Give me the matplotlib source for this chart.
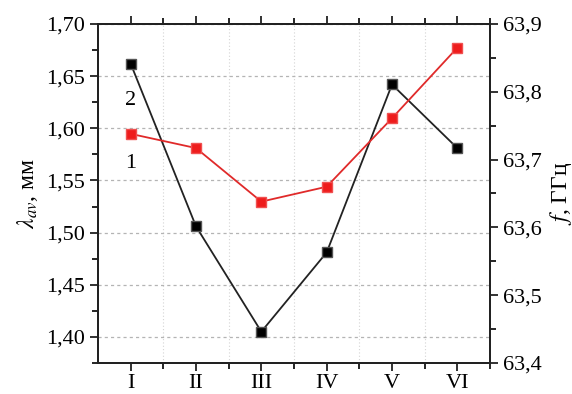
import numpy as np
import matplotlib
matplotlib.use('Agg')
import matplotlib.pyplot as plt
from matplotlib.ticker import FuncFormatter, MultipleLocator

plt.rcParams['font.family'] = ['Liberation Serif', 'DejaVu Serif']
plt.rcParams['mathtext.fontset'] = 'stix'

cats = ['I', 'II', 'III', 'IV', 'V', 'VI']
lam = [1.662, 1.506, 1.405, 1.481, 1.642, 1.581]      # curve 2, left axis
freq = [63.738, 63.717, 63.638, 63.660, 63.761, 63.865]  # curve 1, right axis

x = np.arange(1, len(cats) + 1)

fig = plt.figure(figsize=(5.72, 3.94), dpi=100)
ax = fig.add_axes([98/572, 31/394, 392/572, 339/394])
ax2 = ax.twinx()

ax.plot(x, lam, color='#222222', lw=1.3, marker='s', ms=6.5,
        markerfacecolor='black', markeredgecolor='#555555', zorder=3)
ax2.plot(x, freq, color='#e02a2a', lw=1.3, marker='s', ms=6.5,
         markerfacecolor='#ee1c1c', markeredgecolor='#f05050', zorder=3)

ax.set_xlim(0.5, 6.5)
ax.set_ylim(1.375, 1.70)
ax2.set_ylim(63.4, 63.9)

ax.set_xticks(x)
ax.set_xticklabels(cats)
ax.set_xticks(np.arange(1.5, 7, 1.0), minor=True)
ax.yaxis.set_major_locator(MultipleLocator(0.05))
ax.yaxis.set_minor_locator(MultipleLocator(0.025))
ax2.yaxis.set_major_locator(MultipleLocator(0.1))
ax2.yaxis.set_minor_locator(MultipleLocator(0.05))

comma2 = FuncFormatter(lambda v, p: ('%.2f' % v).replace('.', ','))
comma1 = FuncFormatter(lambda v, p: ('%.1f' % v).replace('.', ','))
ax.yaxis.set_major_formatter(comma2)
ax2.yaxis.set_major_formatter(comma1)

ax.grid(True, axis='y', which='major', color='#b4b4b4', ls=(0, (2.5, 2.5)), lw=0.9)
ax.grid(True, axis='x', which='minor', color='#d4d4d4', ls=(0, (1, 2)), lw=0.8)

for a in (ax, ax2):
    for s in a.spines.values():
        s.set_linewidth(1.4)
        s.set_color('#222222')

ax.tick_params(axis='both', which='major', direction='out', length=6, width=1.3,
               labelsize=16, colors='#222222', labelcolor='black', top=True)
ax.tick_params(axis='both', which='minor', direction='out', length=4, width=1.2,
               top=True)
ax2.tick_params(axis='y', which='major', direction='out', length=6, width=1.3,
                labelsize=16, colors='#222222', labelcolor='black')
ax2.tick_params(axis='y', which='minor', direction='out', length=4, width=1.2)
ax.tick_params(axis='x', pad=2)

ax.set_ylabel(r'$\lambda_{av}$, мм', fontsize=17, labelpad=4)
ax2.set_ylabel(r'$f$, ГГц', fontsize=17, labelpad=4)

ax.text(1.0, 1.627, '2', fontsize=16, ha='center', va='center')
ax.text(1.0, 1.566, '1', fontsize=16, ha='center', va='center')

fig.savefig('out.png', dpi=100)
